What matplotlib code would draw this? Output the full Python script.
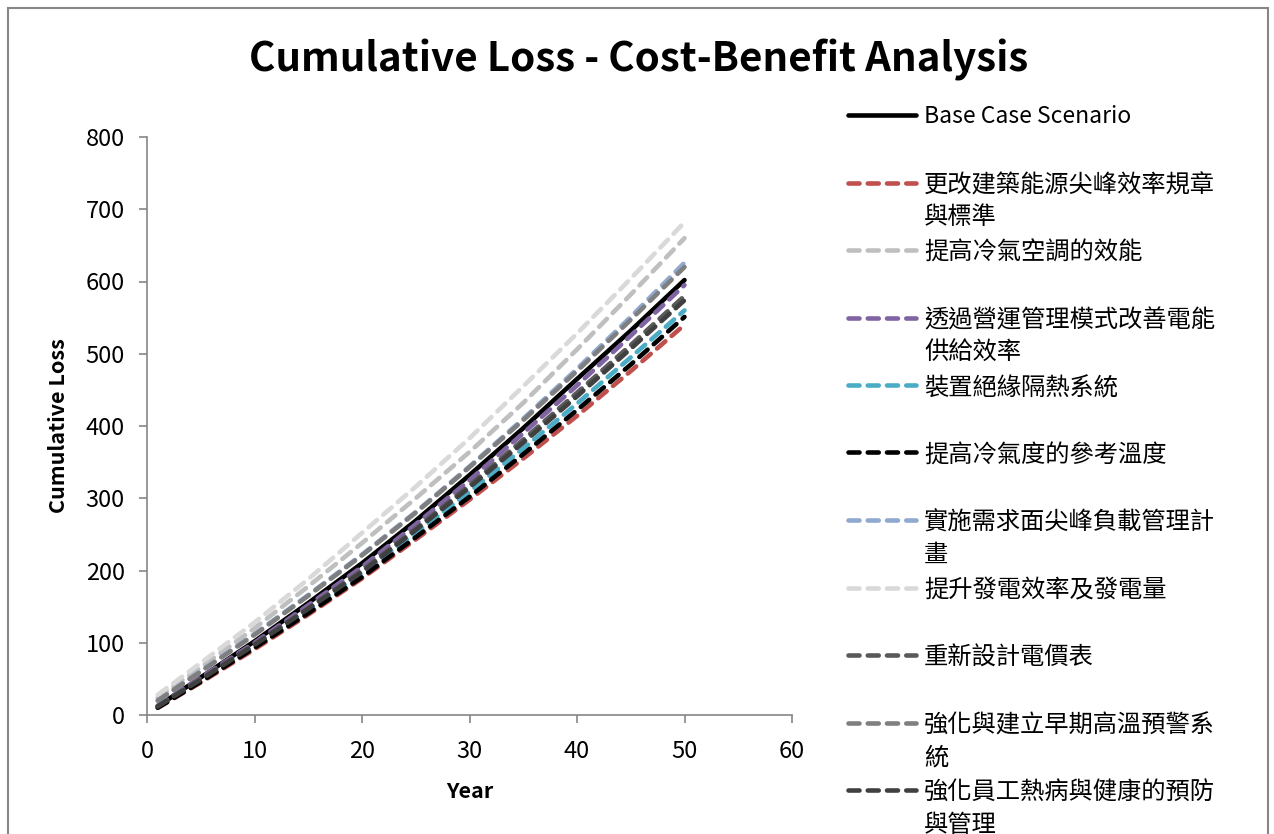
import matplotlib
matplotlib.use("Agg")
import matplotlib.pyplot as plt
from matplotlib.lines import Line2D
from matplotlib.patches import Rectangle

cjk = ['Noto Sans CJK TC', 'DejaVu Sans']
plt.rcParams['font.family'] = cjk

years = [1, 5, 10, 15, 20, 25, 30, 35, 40, 45, 50]

base_case = [12, 52, 102, 155, 210, 269, 332, 397, 465, 532, 602]
building_code = [10, 45, 91, 139, 189, 243, 298, 355, 414, 476, 540]
ac_efficiency = [24, 66, 120, 178, 238, 300, 364, 432, 506, 582, 660]
supply_mgmt = [13, 52, 100, 152, 205, 264, 325, 390, 456, 525, 595]
insulation = [12, 49, 96, 145, 196, 252, 309, 369, 431, 495, 560]
ref_temp = [10, 46, 93, 141, 191, 246, 302, 361, 422, 485, 551]
demand_side = [20, 61, 112, 166, 222, 281, 344, 410, 479, 551, 626]
generation = [28, 72, 128, 188, 252, 316, 383, 455, 528, 604, 682]
tariff = [12, 50, 98, 148, 200, 258, 318, 381, 446, 512, 580]
early_warning = [20, 60, 111, 165, 221, 280, 343, 408, 476, 547, 620]
worker_health = [12, 49, 97, 147, 198, 256, 315, 377, 441, 507, 574]

series = [
    ("Base Case Scenario", base_case, "#000000", "solid"),
    ("更改建築能源尖峰效率規章\n與標準", building_code, "#C0504D", "dash"),
    ("提高冷氣空調的效能", ac_efficiency, "#BFBFBF", "dash"),
    ("透過營運管理模式改善電能\n供給效率", supply_mgmt, "#8064A2", "dash"),
    ("裝置絕緣隔熱系統", insulation, "#4BACC6", "dash"),
    ("提高冷氣度的參考溫度", ref_temp, "#000000", "dash"),
    ("實施需求面尖峰負載管理計\n畫", demand_side, "#8FA9CF", "dash"),
    ("提升發電效率及發電量", generation, "#D9D9D9", "dash"),
    ("重新設計電價表", tariff, "#595959", "dash"),
    ("強化與建立早期高溫預警系\n統", early_warning, "#7F7F7F", "dash"),
    ("強化員工熱病與健康的預防\n與管理", worker_health, "#404040", "dash"),
]

W, H = 1274, 834
fig = plt.figure(figsize=(W / 100, H / 100), dpi=100)
ax = fig.add_axes([147 / W, (H - 715) / H, (792 - 147) / W, (715 - 137) / H])

lw = 3.3
dash = (2.4, 1.8)
for label, vals, color, style in series:
    line, = ax.plot(years, vals, color=color, lw=lw, solid_capstyle='round',
                    dash_capstyle='round')
    if style == "dash":
        line.set_dashes(dash)

ax.set_xlim(0, 60)
ax.set_ylim(0, 800)
ax.set_xticks(range(0, 61, 10))
ax.set_yticks(range(0, 801, 100))
for side in ['top', 'right']:
    ax.spines[side].set_visible(False)
for side in ['left', 'bottom']:
    ax.spines[side].set_color('#868686')
    ax.spines[side].set_linewidth(1.2)
ax.tick_params(colors='#868686', length=6, width=1.2, labelsize=17,
               labelcolor='black', direction='out')
ax.tick_params(axis='x', pad=12)
ax.tick_params(axis='y', pad=10)
ax.set_xlabel("Year", fontsize=15.5, fontweight='bold', labelpad=13)
ax.set_ylabel("Cumulative Loss", fontsize=15.5, fontweight='bold', labelpad=12)

fig.text(639 / W, 1 - 60 / H, "Cumulative Loss - Cost-Benefit Analysis",
         ha='center', va='center', fontsize=29, fontweight='bold')

# legend drawn by hand: each entry gets a fixed slot, handle on the first text line
y0, step = 115, 67.5
for i, (label, vals, color, style) in enumerate(series):
    yc = 1 - (y0 + i * step) / H
    handle = Line2D([848 / W, 916 / W], [yc, yc], transform=fig.transFigure,
                    color=color, lw=lw, solid_capstyle='round',
                    dash_capstyle='round')
    if style == "dash":
        handle.set_dashes(dash)
    fig.add_artist(handle)
    size = 16.5 if i == 0 else 17.5
    fig.text(924 / W, yc + 10 / H, label, ha='left', va='top', fontsize=size,
             linespacing=1.3)

fig.add_artist(Rectangle((8 / W, -0.05), (1268 - 8) / W, 1.05 - 8 / H,
                         transform=fig.transFigure, fill=False,
                         edgecolor='#868686', lw=1.5))

fig.savefig("out.png", dpi=100)
